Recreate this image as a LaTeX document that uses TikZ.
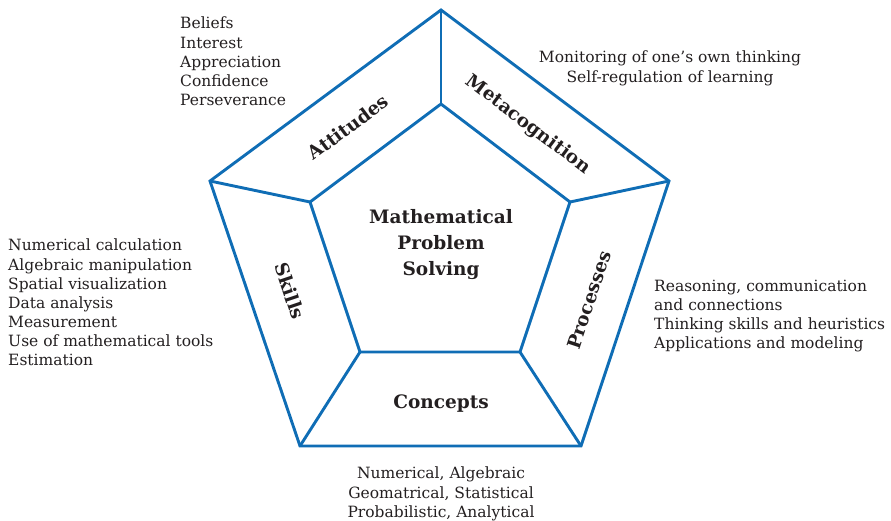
\documentclass[tikz,border=0pt]{standalone}
\usepackage{fontspec}
\setmainfont{DejaVu Serif}
\definecolor{pblue}{HTML}{0F6DB5}
\definecolor{ink}{HTML}{231F20}
\begin{document}
\begin{tikzpicture}[x=1pt,y=-1pt,
  edge/.style={draw=pblue,line width=2.9pt,line join=miter},
  listtxt/.style={text=ink,font=\fontsize{15.5}{19.1}\selectfont,inner sep=0pt},
  seg/.style={text=ink,font=\fontsize{18.5}{22}\selectfont\bfseries,inner sep=0pt},
  ctr/.style={text=ink,font=\fontsize{18.5}{26}\selectfont\bfseries,inner sep=0pt,align=center}]
\useasboundingbox (0,0) rectangle (891,521);
% outer vertices
\coordinate (O1) at (441,10);
\coordinate (O2) at (669,181);
\coordinate (O3) at (581,446);
\coordinate (O4) at (300,446);
\coordinate (O5) at (210,181);
% inner vertices
\coordinate (I1) at (441,104);
\coordinate (I2) at (570,202);
\coordinate (I3) at (520,352);
\coordinate (I4) at (360,352);
\coordinate (I5) at (310,202);
\draw[edge] (O1) -- (O2) -- (O3) -- (O4) -- (O5) -- cycle;
\draw[edge] (I1) -- (I2) -- (I3) -- (I4) -- (I5) -- cycle;
\foreach \k in {1,...,5} \draw[edge] (O\k) -- (I\k);
% segment labels
\node[seg,rotate=36.7] (att) at (348,127) {Attitudes};
\node[seg,rotate=-37] (meta) at (528,125) {Metacognition};
\node[seg,rotate=71.6] (proc) at (589,300) {Processes};
\node[seg,rotate=-71.4] (skl) at (290,291) {Skills};
\node[seg] (conc) at (441,404) {Concepts};
\node[ctr] (mps) at (441,245) {Mathematical\\Problem\\Solving};
% lists
\node[listtxt,align=left,anchor=north west] (latt) at (180,17) {Beliefs\\Interest\\Appreciation\\Confidence\\Perseverance};
\node[listtxt,align=center,anchor=north] (lmeta) at (670,51) {Monitoring of one’s own thinking\\Self-regulation of learning};
\node[listtxt,align=left,anchor=north west] (lskl) at (8,239) {Numerical calculation\\Algebraic manipulation\\Spatial visualization\\Data analysis\\Measurement\\Use of mathematical tools\\Estimation};
\node[listtxt,align=left,anchor=north west] (lproc) at (654,280) {Reasoning, communication\\and connections\\Thinking skills and heuristics\\Applications and modeling};
\node[listtxt,align=center,anchor=north] (lconc) at (441,467) {Numerical, Algebraic\\Geomatrical, Statistical\\Probabilistic, Analytical};
\end{tikzpicture}
\end{document}
